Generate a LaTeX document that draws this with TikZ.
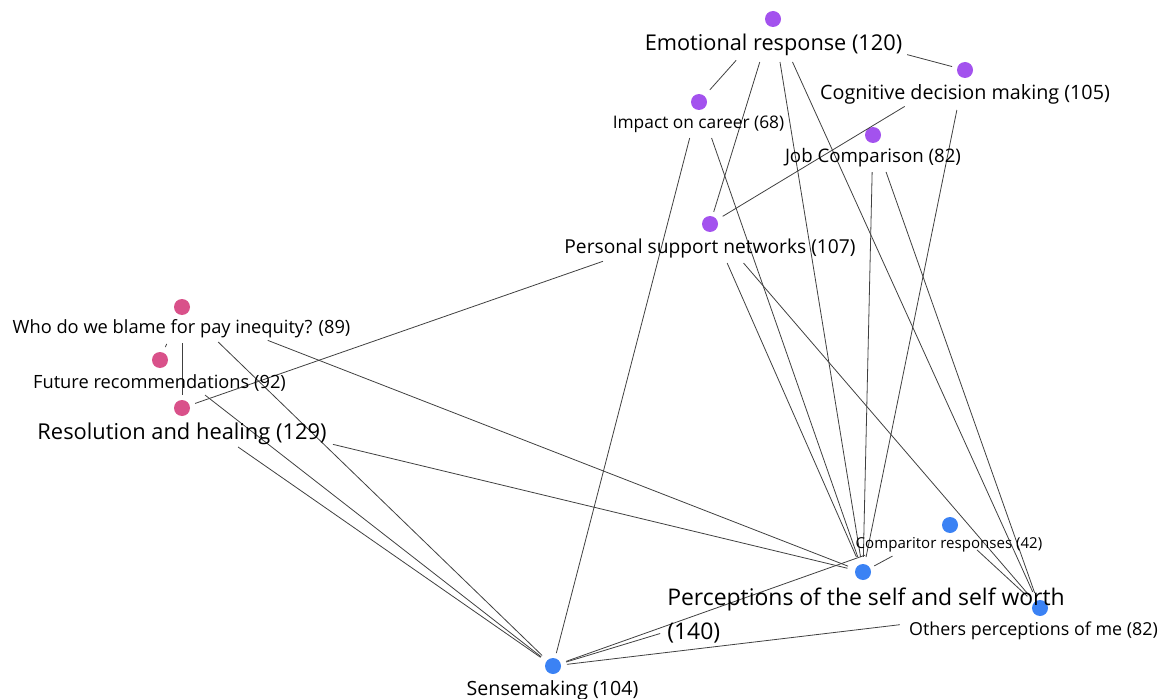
\documentclass[tikz,border=0pt]{standalone}
\usepackage{fontspec}
\setmainfont{Open Sans}
\definecolor{themeA}{HTML}{A352EE}
\definecolor{themeB}{HTML}{D9518A}
\definecolor{themeC}{HTML}{3B82F4}
\definecolor{linkgray}{HTML}{404040}
\newcommand\fsz[1]{\fontsize{#1pt}{#1pt}\selectfont}
\begin{document}
\begin{tikzpicture}[x=0.75pt,y=-0.75pt,
  dot/.style={circle,fill=#1,minimum size=12pt,inner sep=0pt},
  lab/.style={inner sep=0pt,anchor=center,text=black},
  link/.style={draw=linkgray,line width=0.6pt},
  cut/.style 2 args={shorten <=#1pt,shorten >=#2pt},
]
\useasboundingbox (0,0) rectangle (1172,699);

% topic dots
\node[dot=themeA] (emo)   at (773,19)  {};
\node[dot=themeA] (cog)   at (965,70)  {};
\node[dot=themeA] (imp)   at (699,102) {};
\node[dot=themeA] (job)   at (873,135) {};
\node[dot=themeA] (pers)  at (710,224) {};
\node[dot=themeB] (blame) at (182,307) {};
\node[dot=themeB] (fut)   at (160,360) {};
\node[dot=themeB] (res)   at (182,408) {};
\node[dot=themeC] (comp)  at (950,525) {};
\node[dot=themeC] (self)  at (863,572) {};
\node[dot=themeC] (oth)   at (1040,608) {};
\node[dot=themeC] (sense) at (553,666) {};

% links between topics (clipped short of the labels)
\draw[link,cut={41.5}{12.2}] (emo.center) -- (imp.center);
\draw[link,cut={33.8}{9.5}]  (emo.center) -- (pers.center);
\draw[link,cut={32.7}{11.4}] (emo.center) -- (self.center);
\draw[link,cut={35.4}{13.2}] (emo.center) -- (oth.center);
\draw[link,cut={104.1}{10}]  (emo.center) -- (cog.center);
\draw[link,cut={52.9}{11.1}] (cog.center) -- (pers.center);
\draw[link,cut={30.6}{11.5}] (cog.center) -- (self.center);
\draw[link,cut={27.9}{10}]   (imp.center) -- (sense.center);
\draw[link,cut={28.6}{11.9}] (imp.center) -- (self.center);
\draw[link,cut={27.8}{11.3}] (job.center) -- (self.center);
\draw[link,cut={29.4}{11.9}] (job.center) -- (oth.center);
\draw[link,cut={32}{12.3}]   (pers.center) -- (self.center);
\draw[link,cut={38.6}{12.8}] (pers.center) -- (oth.center);
\draw[link,cut={27}{9.8}]    (blame.center) -- (res.center);
\draw[link,cut={30}{10.5}]   (blame.center) -- (fut.center);
\draw[link,cut={37.7}{11.3}] (blame.center) -- (sense.center);
\draw[link,cut={69}{12}]     (blame.center) -- (self.center);
\draw[link,cut={42.8}{11.3}] (fut.center) -- (sense.center);
\draw[link,cut={10.4}{85}]   (res.center) -- (pers.center);
\draw[link,cut={51.2}{11.3}] (res.center) -- (sense.center);
\draw[link,cut={116.5}{12}]  (res.center) -- (self.center);
\draw[link,cut={10.2}{159}]  (sense.center) -- (self.center);
\draw[link,cut={10.5}{67.5}] (sense.center) -- (comp.center);
\draw[link,cut={10.5}{105.8}] (sense.center) -- (oth.center);
\draw[link,cut={49}{9.6}]    (comp.center) -- (self.center);
\draw[link,cut={27.5}{12.8}] (comp.center) -- (oth.center);

% topic labels
\node[lab,font=\fsz{16.3}] (emoL)   at (773.5,45)  {Emotional response (120)};
\node[lab,font=\fsz{14.8}] (cogL)   at (965,94)    {Cognitive decision making (105)};
\node[lab,font=\fsz{13}]   (impL)   at (698.5,124) {Impact on career (68)};
\node[lab,font=\fsz{14}]   (jobL)   at (873,158)   {Job Comparison (82)};
\node[lab,font=\fsz{14.4}] (persL)  at (710,249)   {Personal support networks (107)};
\node[lab,font=\fsz{13.7}] (blameL) at (181.5,329) {Who do we blame for pay inequity? (89)};
\node[lab,font=\fsz{13.7}] (futL)   at (159.5,383) {Future recommendations (92)};
\node[lab,font=\fsz{16.4}] (resL)   at (182,434)   {Resolution and healing (129)};
\node[lab,font=\fsz{11.3}] (compL)  at (949,545)   {Comparitor responses (42)};
\node[lab,font=\fsz{17.2},align=left,anchor=north west] (selfL) at (667,588)
  {Perceptions of the self and self worth\\[8.3pt](140)};
\node[lab,font=\fsz{13.4}] (othL)   at (1033.5,631) {Others perceptions of me (82)};
\node[lab,font=\fsz{14.7}] (senseL) at (552.5,690) {Sensemaking (104)};
\end{tikzpicture}
\end{document}
